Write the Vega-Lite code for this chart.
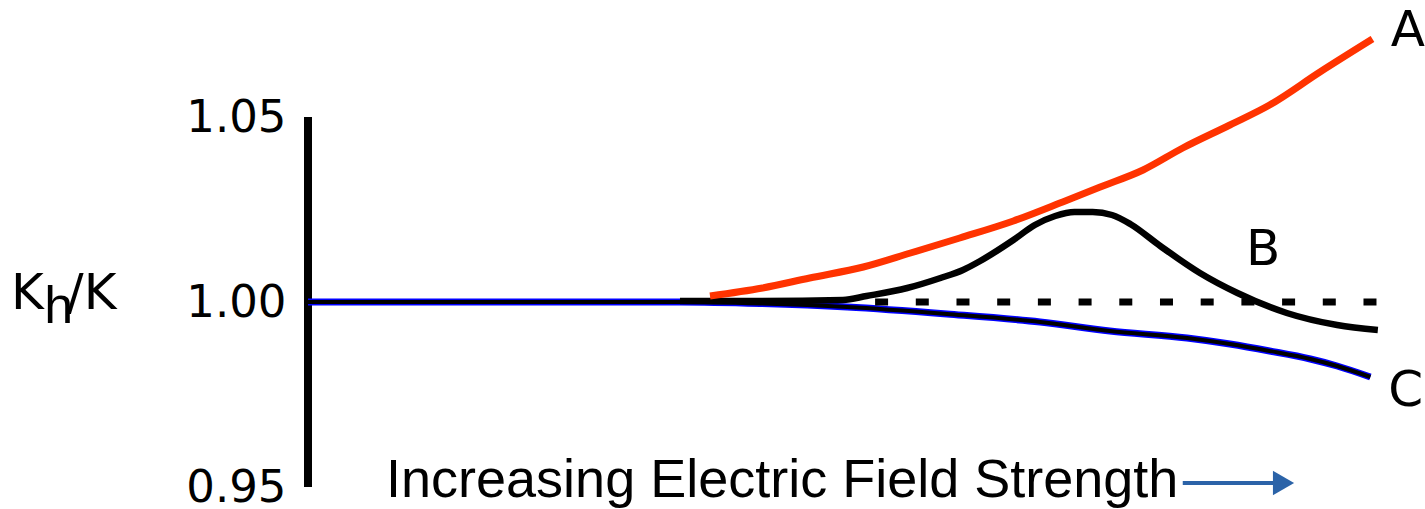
{
  "$schema": "https://vega.github.io/schema/vega-lite/v6.json",
  "width": 1072,
  "height": 518,
  "autosize": "none",
  "padding": {"left": 308, "top": 6, "right": 45, "bottom": 0},
  "background": "white",
  "config": {"view": {"stroke": null}},
  "datasets": {
    "curves": [
      {"s": "A", "x": 37.5, "y": 1.00162},
      {"s": "A", "x": 42.4, "y": 1.00378},
      {"s": "A", "x": 46.8, "y": 1.00649},
      {"s": "A", "x": 51.8, "y": 1.00946},
      {"s": "A", "x": 56.2, "y": 1.01324},
      {"s": "A", "x": 60.8, "y": 1.0173},
      {"s": "A", "x": 65.8, "y": 1.02189},
      {"s": "A", "x": 70.4, "y": 1.02703},
      {"s": "A", "x": 73.9, "y": 1.03108},
      {"s": "A", "x": 77.9, "y": 1.03568},
      {"s": "A", "x": 81.6, "y": 1.04162},
      {"s": "A", "x": 86.0, "y": 1.04784},
      {"s": "A", "x": 89.7, "y": 1.05324},
      {"s": "A", "x": 94.4, "y": 1.06216},
      {"s": "A", "x": 99.3, "y": 1.07108},
      {"s": "B", "x": 34.7, "y": 1.00027},
      {"s": "B", "x": 42.2, "y": 1.00027},
      {"s": "B", "x": 49.9, "y": 1.00054},
      {"s": "B", "x": 52.1, "y": 1.00162},
      {"s": "B", "x": 55.9, "y": 1.00378},
      {"s": "B", "x": 59.0, "y": 1.00649},
      {"s": "B", "x": 61.1, "y": 1.00865},
      {"s": "B", "x": 62.7, "y": 1.01108},
      {"s": "B", "x": 65.8, "y": 1.01676},
      {"s": "B", "x": 67.8, "y": 1.02081},
      {"s": "B", "x": 69.7, "y": 1.02324},
      {"s": "B", "x": 71.5, "y": 1.02432},
      {"s": "B", "x": 73.2, "y": 1.02432},
      {"s": "B", "x": 75.0, "y": 1.02351},
      {"s": "B", "x": 76.7, "y": 1.02108},
      {"s": "B", "x": 79.5, "y": 1.01514},
      {"s": "B", "x": 83.2, "y": 1.00784},
      {"s": "B", "x": 86.7, "y": 1.00243},
      {"s": "B", "x": 91.3, "y": 0.99703},
      {"s": "B", "x": 96.0, "y": 0.99378},
      {"s": "B", "x": 99.8, "y": 0.99243},
      {"s": "C", "x": 0.0, "y": 1.0},
      {"s": "C", "x": 34.7, "y": 1.0},
      {"s": "C", "x": 42.2, "y": 0.99959},
      {"s": "C", "x": 50.3, "y": 0.99865},
      {"s": "C", "x": 59.6, "y": 0.99676},
      {"s": "C", "x": 68.3, "y": 0.99459},
      {"s": "C", "x": 74.8, "y": 0.99216},
      {"s": "C", "x": 82.0, "y": 0.99027},
      {"s": "C", "x": 86.0, "y": 0.98865},
      {"s": "C", "x": 89.7, "y": 0.98676},
      {"s": "C", "x": 93.5, "y": 0.98459},
      {"s": "C", "x": 96.0, "y": 0.9827},
      {"s": "C", "x": 99.1, "y": 0.97973}
    ],
    "axisline": [{"x": 0, "y": 0.95, "y2": 1.05}],
    "dots": [{"x": 52.9, "y": 1.0}, {"x": 99.9, "y": 1.0}],
    "arrow": [{"x": 81.6, "y": 0.95108}, {"x": 90.2, "y": 0.95108}],
    "arrowhead": [{"x": 91.0, "y": 0.95108}],
    "labels": [
      {"t": "A", "x": 102.6, "y": 1.07324},
      {"t": "B", "x": 89.1, "y": 1.01405},
      {"t": "C", "x": 102.4, "y": 0.97595}
    ],
    "ylabK": [
      {"t": "K", "x": -27.7, "y": 0.99811},
      {"t": "/K", "x": -22.5, "y": 0.99811}
    ],
    "ylabh": [
      {"t": "h", "x": -24.6, "y": 0.99432}
    ],
    "xtitle": [{"t": "Increasing Electric Field Strength", "x": 7.28, "y": 0.9473}]
  },
  "layer": [
    {
      "data": {"name": "axisline"},
      "mark": {"type": "rule", "color": "black", "strokeWidth": 8},
      "encoding": {
        "x": {"field": "x", "type": "quantitative", "scale": {"domain": [0, 100]}, "axis": null},
        "y": {"field": "y", "type": "quantitative", "scale": {"domain": [0.94, 1.08], "nice": false, "zero": false},
          "axis": {"values": [0.95, 1.0, 1.05], "format": ".2f", "domain": false, "ticks": false, "grid": false, "title": null,
            "labelFontSize": 45, "labelFont": "DejaVu Sans", "labelColor": "black", "labelPadding": 22, "labelFlush": false}},
        "y2": {"field": "y2"}
      }
    },
    {
      "data": {"name": "curves"},
      "transform": [{"filter": "datum.s === 'C'"}],
      "mark": {"type": "line", "color": "#0000ff", "strokeWidth": 7, "interpolate": "monotone"},
      "encoding": {"x": {"field": "x", "type": "quantitative"}, "y": {"field": "y", "type": "quantitative"}}
    },
    {
      "data": {"name": "curves"},
      "transform": [{"filter": "datum.s === 'C'"}],
      "mark": {"type": "line", "color": "black", "strokeWidth": 4, "interpolate": "monotone"},
      "encoding": {"x": {"field": "x", "type": "quantitative"}, "y": {"field": "y", "type": "quantitative"}}
    },
    {
      "data": {"name": "dots"},
      "mark": {"type": "line", "color": "black", "strokeWidth": 7, "strokeDash": [13, 27.7], "strokeCap": "butt"},
      "encoding": {"x": {"field": "x", "type": "quantitative"}, "y": {"field": "y", "type": "quantitative"}}
    },
    {
      "data": {"name": "curves"},
      "transform": [{"filter": "datum.s === 'B'"}],
      "mark": {"type": "line", "color": "black", "strokeWidth": 6.5, "interpolate": "monotone"},
      "encoding": {"x": {"field": "x", "type": "quantitative"}, "y": {"field": "y", "type": "quantitative"}}
    },
    {
      "data": {"name": "curves"},
      "transform": [{"filter": "datum.s === 'A'"}],
      "mark": {"type": "line", "color": "#ff3300", "strokeWidth": 7, "interpolate": "monotone"},
      "encoding": {"x": {"field": "x", "type": "quantitative"}, "y": {"field": "y", "type": "quantitative"}}
    },
    {
      "data": {"name": "arrow"},
      "mark": {"type": "line", "color": "#2b63a8", "strokeWidth": 4},
      "encoding": {"x": {"field": "x", "type": "quantitative"}, "y": {"field": "y", "type": "quantitative"}}
    },
    {
      "data": {"name": "arrowhead"},
      "mark": {"type": "point", "shape": "triangle-right", "filled": true, "color": "#2b63a8", "size": 600, "opacity": 1},
      "encoding": {"x": {"field": "x", "type": "quantitative"}, "y": {"field": "y", "type": "quantitative"}}
    },
    {
      "data": {"name": "labels"},
      "mark": {"type": "text", "font": "DejaVu Sans", "fontSize": 50, "color": "black", "align": "center", "baseline": "middle"},
      "encoding": {"x": {"field": "x", "type": "quantitative"}, "y": {"field": "y", "type": "quantitative"}, "text": {"field": "t"}}
    },
    {
      "data": {"name": "ylabK"},
      "mark": {"type": "text", "font": "DejaVu Sans", "fontSize": 50, "color": "black", "align": "left", "baseline": "alphabetic"},
      "encoding": {"x": {"field": "x", "type": "quantitative"}, "y": {"field": "y", "type": "quantitative"}, "text": {"field": "t"}}
    },
    {
      "data": {"name": "ylabh"},
      "mark": {"type": "text", "font": "Liberation Sans Narrow, Liberation Sans", "fontSize": 52, "color": "black", "align": "left", "baseline": "alphabetic"},
      "encoding": {"x": {"field": "x", "type": "quantitative"}, "y": {"field": "y", "type": "quantitative"}, "text": {"field": "t"}}
    },
    {
      "data": {"name": "xtitle"},
      "mark": {"type": "text", "font": "Liberation Sans Narrow, Liberation Sans", "fontSize": 54, "color": "black", "align": "left", "baseline": "alphabetic"},
      "encoding": {"x": {"field": "x", "type": "quantitative"}, "y": {"field": "y", "type": "quantitative"}, "text": {"field": "t"}}
    }
  ]
}
